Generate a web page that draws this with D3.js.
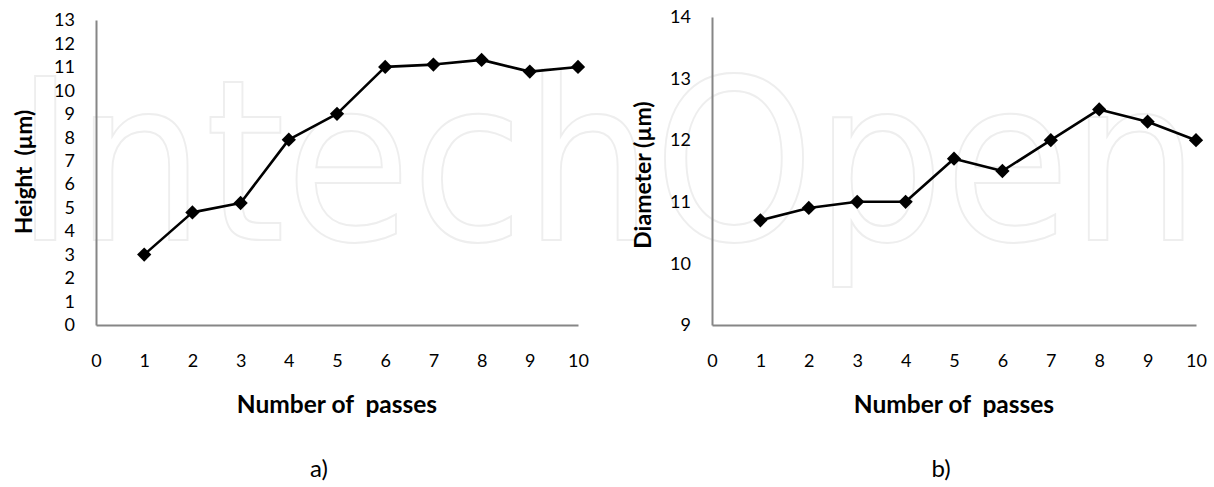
<!DOCTYPE html>
<html>
<head>
<meta charset="utf-8">
<script src="https://cdn.jsdelivr.net/npm/d3@7"></script>
<style>
  html, body { margin: 0; padding: 0; background: #fff; }
  svg { display: block; font-family: Lato, "Open Sans", sans-serif; }
</style>
</head>
<body>
<svg id="chart" width="1214" height="487"></svg>
<script>
// Number of passes (x positions of the measurements)
const passes = [1, 2, 3, 4, 5, 6, 7, 8, 9, 10];
// Deposit height (µm) after each pass
const heightValues = [3.0, 4.8, 5.2, 7.9, 9.0, 11.0, 11.1, 11.3, 10.8, 11.0];
// Deposit diameter (µm) after each pass
const diameterValues = [10.7, 10.9, 11.0, 11.0, 11.7, 11.5, 12.0, 12.5, 12.3, 12.0];
// Axis tick labels
const xTicks = [0, 1, 2, 3, 4, 5, 6, 7, 8, 9, 10];
const heightTicks = [0, 1, 2, 3, 4, 5, 6, 7, 8, 9, 10, 11, 12, 13];
const diameterTicks = [9, 10, 11, 12, 13, 14];

const svg = d3.select("#chart");

// faint outlined publisher mark behind both panels
svg.append("text")
  .attr("x", 15).attr("y", 240)
  .attr("textLength", 1185)
  .attr("lengthAdjust", "spacingAndGlyphs")
  .attr("font-family", "'DejaVu Sans', sans-serif")
  .attr("font-size", 225)
  .attr("fill", "none")
  .attr("stroke", "#eeeeee")
  .attr("stroke-width", 2)
  .text("IntechOpen");

function panel(opts) {
  const g = svg.append("g");
  const x = d3.scaleLinear().domain([0, 10]).range(opts.xRange);
  const y = d3.scaleLinear().domain(opts.yDomain).range(opts.yRange);

  // axis lines (no tick marks)
  const axisColor = "#868686";
  const yAxis = d3.axisLeft(y).tickValues(opts.yTicks).tickFormat(d3.format("d")).tickSize(0).tickPadding(21);
  const xAxis = d3.axisBottom(x).tickValues(xTicks).tickFormat(d3.format("d")).tickSize(0).tickPadding(29);

  const ya = g.append("g").attr("transform", `translate(${opts.xRange[0]},0)`).call(yAxis);
  const xa = g.append("g").attr("transform", `translate(0,${opts.yRange[0]})`).call(xAxis);
  [ya, xa].forEach(a => {
    a.select(".domain").attr("stroke", axisColor).attr("stroke-width", 2);
    a.selectAll("text").attr("font-family", "Lato, sans-serif").attr("font-size", 18).attr("fill", "#000");
  });

  // connecting line
  const line = d3.line().x((d, i) => x(passes[i])).y(d => y(d));
  g.append("path")
    .datum(opts.values)
    .attr("d", line)
    .attr("fill", "none")
    .attr("stroke", "#000")
    .attr("stroke-width", 2.6)
    .attr("stroke-linejoin", "round");

  // diamond markers
  const diamond = d3.symbol().type(d3.symbolDiamond2).size(130);
  g.selectAll(".pt")
    .data(opts.values)
    .join("path")
    .attr("class", "pt")
    .attr("transform", (d, i) => `translate(${x(passes[i])},${y(d)})`)
    .attr("d", diamond)
    .attr("fill", "#000");

  // axis titles
  g.append("text")
    .attr("transform", `translate(${opts.yTitleX},${opts.yTitleY}) rotate(-90)`)
    .attr("text-anchor", "middle")
    .attr("font-weight", "bold")
    .attr("font-size", opts.yTitleSize)
    .style("white-space", "pre")
    .text(opts.yTitle);

  g.append("text")
    .attr("x", (opts.xRange[0] + opts.xRange[1]) / 2).attr("y", 413)
    .attr("text-anchor", "middle")
    .attr("font-weight", "bold")
    .attr("font-size", 24.5)
    .style("white-space", "pre")
    .text("Number of  passes");

  g.append("text")
    .attr("x", opts.tagX).attr("y", 477)
    .attr("text-anchor", "middle")
    .attr("font-size", 24)
    .text(opts.tag);
}

panel({
  xRange: [96, 578],
  yDomain: [0, 13],
  yRange: [325, 20],
  yTicks: heightTicks,
  values: heightValues,
  yTitle: "Height  (µm)",
  yTitleX: 32,
  yTitleY: 172,
  yTitleSize: 22.5,
  tagX: 319,
  tag: "a)"
});

panel({
  xRange: [712, 1196],
  yDomain: [9, 14],
  yRange: [325, 17],
  yTicks: diameterTicks,
  values: diameterValues,
  yTitle: "Diameter (µm)",
  yTitleX: 651,
  yTitleY: 175,
  yTitleSize: 23,
  tagX: 941,
  tag: "b)"
});
</script>
</body>
</html>
